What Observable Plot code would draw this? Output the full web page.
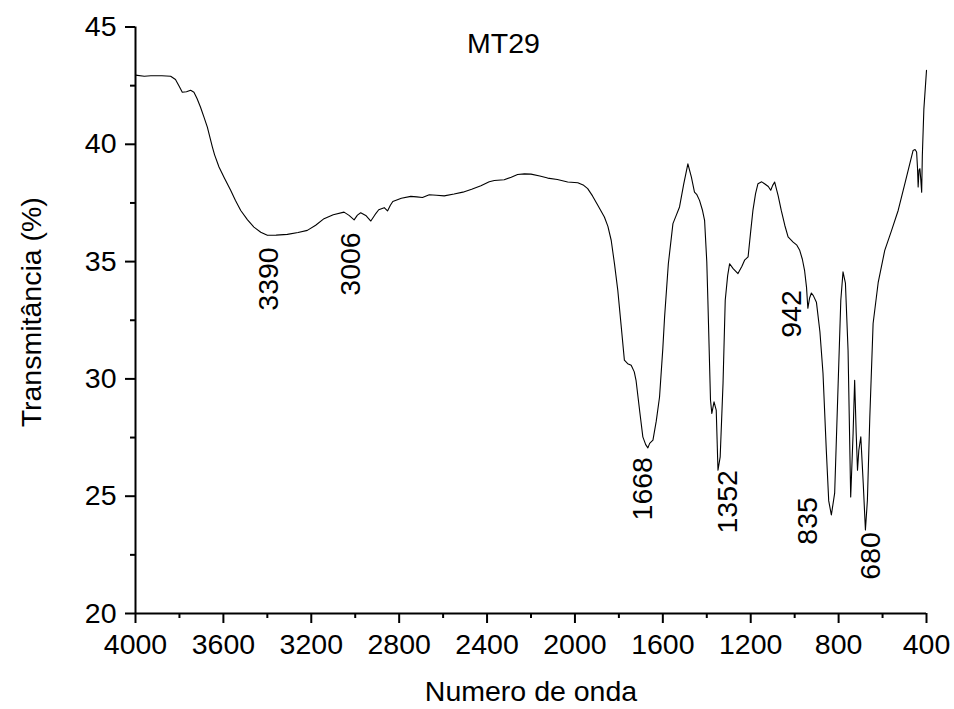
<!DOCTYPE html>
<html>
<head>
<meta charset="utf-8">
<script src="https://cdn.jsdelivr.net/npm/d3@7"></script>
<script src="https://cdn.jsdelivr.net/npm/@observablehq/plot@0.6"></script>
<style>
  html, body { margin: 0; padding: 0; background: #fff; }
  #chart { width: 954px; height: 709px; }
</style>
</head>
<body>
<div id="chart"></div>
<script>
// Spectrum (wavenumber in cm-1, transmittance in %)
const wavenumber = [
  4000, 3960, 3930, 3880, 3840, 3818, 3800, 3787, 3768, 3749, 3734, 3720, 3704, 3688, 3673,
  3650, 3640, 3620, 3595, 3567, 3545, 3521, 3490, 3461, 3430, 3400, 3360, 3309, 3260, 3218,
  3180, 3142, 3100, 3051, 3028, 3005, 2990, 2975, 2950, 2929, 2910, 2893, 2868, 2853, 2840,
  2829, 2790, 2747, 2720, 2694, 2663, 2630, 2595, 2550, 2510, 2470, 2428, 2390, 2367, 2322,
  2290, 2261, 2230, 2200, 2160, 2124, 2080, 2033, 1987, 1960, 1942, 1920, 1896, 1866, 1850,
  1835, 1820, 1805, 1790, 1775, 1760, 1744, 1730, 1722, 1705, 1691, 1678, 1668, 1660, 1645,
  1630, 1615, 1600, 1592, 1575, 1554, 1540, 1524, 1505, 1486, 1470, 1456, 1445, 1433, 1420,
  1410, 1400, 1395, 1383, 1377, 1367, 1357, 1349, 1339, 1326, 1316, 1305, 1296, 1280, 1258,
  1240, 1228, 1212, 1200, 1190, 1178, 1167, 1150, 1137, 1120, 1109, 1100, 1091, 1075, 1061,
  1045, 1030, 1007, 990, 977, 965, 955, 946, 940, 932, 924, 915, 901, 885, 871,
  856, 845, 833, 818, 802, 790, 780, 769, 757, 745, 734, 727, 720, 714, 708,
  699, 688, 678, 669, 658, 643, 620, 590, 560, 529, 495, 461, 452, 445, 441,
  438, 434, 430, 426, 422, 419, 412, 400
];
const transmittance = [
  42.95, 42.90, 42.92, 42.92, 42.90, 42.76, 42.45, 42.22, 42.24, 42.30, 42.22, 41.95, 41.58, 41.15, 40.73,
  39.88, 39.55, 39.03, 38.55, 38.04, 37.60, 37.18, 36.78, 36.47, 36.25, 36.12, 36.13, 36.16, 36.24, 36.33,
  36.55, 36.83, 37.00, 37.11, 36.97, 36.78, 36.98, 37.08, 36.95, 36.73, 37.00, 37.21, 37.30, 37.16, 37.40,
  37.56, 37.70, 37.78, 37.76, 37.73, 37.85, 37.83, 37.80, 37.88, 37.96, 38.08, 38.23, 38.40, 38.46, 38.49,
  38.60, 38.71, 38.74, 38.73, 38.65, 38.56, 38.50, 38.39, 38.36, 38.25, 38.11, 37.80, 37.40, 36.90, 36.50,
  35.91, 34.90, 33.78, 32.30, 30.80, 30.65, 30.58, 30.30, 29.94, 28.60, 27.53, 27.20, 27.06, 27.25, 27.39,
  28.20, 29.23, 31.30, 32.64, 34.90, 36.62, 36.95, 37.33, 38.30, 39.17, 38.60, 37.96, 37.85, 37.61, 37.20,
  36.76, 35.00, 33.35, 29.09, 28.53, 29.02, 28.67, 26.11, 26.68, 29.82, 33.35, 34.40, 34.91, 34.70, 34.49,
  34.80, 35.06, 35.20, 36.30, 37.18, 37.90, 38.32, 38.40, 38.32, 38.20, 38.04, 38.25, 38.39, 37.80, 37.18,
  36.55, 36.05, 35.83, 35.70, 35.48, 35.10, 34.63, 33.90, 33.01, 33.45, 33.66, 33.55, 33.27, 32.00, 30.23,
  26.96, 24.80, 24.20, 25.13, 29.82, 33.35, 34.56, 34.08, 31.22, 24.97, 27.69, 29.94, 27.69, 26.11, 26.96,
  27.53, 25.56, 23.56, 24.83, 28.38, 32.36, 34.10, 35.48, 36.30, 37.18, 38.45, 39.74, 39.78, 39.67, 39.00,
  38.18, 38.90, 38.96, 38.50, 37.96, 39.50, 41.50, 43.15
];

// Peak annotations: label text, label centre (wavenumber), label top (transmittance)
const peakLabels = ["3390", "3006", "1668", "1352", "942", "835", "680"];
const peakLabelX = [3394, 3020, 1690, 1302, 1011, 938, 651];
const peakLabelY = [35.61, 36.25, 26.67, 26.11, 33.78, 24.96, 23.47];

// Axis ticks
const xMajorTicks = [4000, 3600, 3200, 2800, 2400, 2000, 1600, 1200, 800, 400];
const xMinorTicks = [3800, 3400, 3000, 2600, 2200, 1800, 1400, 1000, 600];
const yMajorTicks = [20, 25, 30, 35, 40, 45];
const yMinorTicks = [22.5, 27.5, 32.5, 37.5, 42.5];

const titleText = ["MT29"];
const xLabelText = ["Numero de onda"];
const yLabelText = ["Transmitância (%)"];

const spectrum = wavenumber.map((w, i) => ({w, t: transmittance[i]}));
const peaks = peakLabels.map((label, i) => ({label, x: peakLabelX[i], y: peakLabelY[i]}));

const FONT = 28.5;

const chart = Plot.plot({
  width: 954,
  height: 709,
  marginLeft: 135,
  marginRight: 28,
  marginTop: 26.5,
  marginBottom: 96,
  style: {
    fontFamily: "'Liberation Sans', Arial, sans-serif",
    fontSize: FONT + "px",
    background: "#fff",
    color: "#000",
    overflow: "visible"
  },
  x: {domain: [4000, 400], label: null},
  y: {domain: [20, 45], label: null},
  marks: [
    Plot.line(spectrum, {x: "w", y: "t", stroke: "#000", strokeWidth: 1.1}),
    Plot.axisX(xMajorTicks, {tickSize: 10, tickPadding: 10, fontSize: FONT, strokeWidth: 2, label: null, tickFormat: d => String(d)}),
    Plot.axisX(xMinorTicks, {tickSize: 5, strokeWidth: 2, label: null, tickFormat: () => ""}),
    Plot.axisY(yMajorTicks, {tickSize: 10, tickPadding: 9, fontSize: FONT, strokeWidth: 2, label: null, tickFormat: d => String(d)}),
    Plot.axisY(yMinorTicks, {tickSize: 5, strokeWidth: 2, label: null, tickFormat: () => ""}),
    Plot.ruleY([20], {stroke: "#000", strokeWidth: 2}),
    Plot.ruleX([4000], {stroke: "#000", strokeWidth: 2}),
    Plot.text(peaks, {x: "x", y: "y", text: "label", rotate: -90, textAnchor: "end", fontSize: FONT, fill: "#000"}),
    Plot.text(titleText, {frameAnchor: "top", text: d => d, textAnchor: "middle", lineAnchor: "middle", dx: -27.5, dy: 17, fontSize: FONT, fill: "#000"}),
    Plot.text(xLabelText, {frameAnchor: "bottom", text: d => d, textAnchor: "middle", lineAnchor: "middle", dy: 78, fontSize: FONT, fill: "#000"}),
    Plot.text(yLabelText, {frameAnchor: "left", text: d => d, rotate: -90, textAnchor: "middle", lineAnchor: "middle", dx: -104, dy: -8, fontSize: FONT, fill: "#000"})
  ]
});

document.getElementById("chart").appendChild(chart);
</script>
</body>
</html>
